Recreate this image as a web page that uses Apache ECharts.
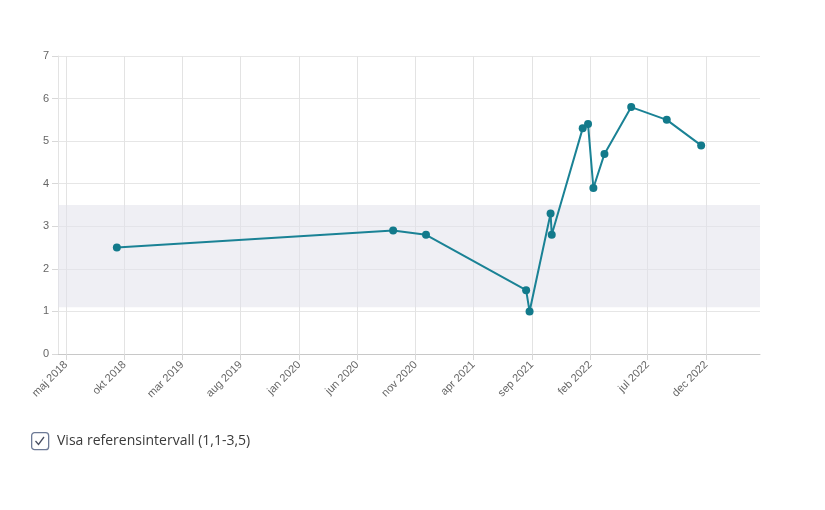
<!DOCTYPE html>
<html>
<head>
<meta charset="utf-8">
<script src="https://cdn.jsdelivr.net/npm/echarts@6/dist/echarts.min.js"></script>
<style>
html,body{margin:0;padding:0;background:#fff;}
#chart{width:825px;height:510px;}
</style>
</head>
<body>
<div id="chart"></div>
<script>
var dates = ['2018-09-11','2020-09-03','2020-11-28','2021-08-17','2021-08-26','2021-10-20','2021-10-23','2022-01-12','2022-01-26','2022-02-09','2022-03-10','2022-05-19','2022-08-20','2022-11-18'];
var values = [2.5, 2.9, 2.8, 1.5, 1.0, 3.3, 2.8, 5.3, 5.4, 3.9, 4.7, 5.8, 5.5, 4.9];
var tickDates = ['2018-05-01','2018-10-01','2019-03-01','2019-08-01','2020-01-01','2020-06-01','2020-11-01','2021-04-01','2021-09-01','2022-02-01','2022-07-01','2022-12-01'];
var monthNames = ['jan','feb','mar','apr','maj','jun','jul','aug','sep','okt','nov','dec'];
var refLow = 1.1, refHigh = 3.5;
var xMin = '2018-04-10', xMax = '2023-04-21';
var legendText = 'Visa referensintervall (1,1-3,5)';

function ts(s){ var p = s.split('-'); return Date.UTC(+p[0], +p[1]-1, +p[2]); }
var tickTs = tickDates.map(ts);
var seriesData = dates.map(function(d,i){ return [ts(d), values[i]]; });

var chart = echarts.init(document.getElementById('chart'), null, {renderer:'canvas'});
chart.setOption({
  animation:false,
  backgroundColor:'#fff',
  grid:{left:58, right:65, top:56, bottom:156, containLabel:false},
  xAxis:{
    type:'value',
    min: ts(xMin), max: ts(xMax),
    axisLine:{show:true, lineStyle:{color:'#c8c8c8'}},
    axisTick:{show:true, length:6, lineStyle:{color:'#d8d8d8'}, customValues: tickTs},
    splitLine:{show:true, lineStyle:{color:'#e3e3e3'}},
    axisLabel:{
      customValues: tickTs,
      rotate:45, margin:9, color:'#666', fontSize:11, fontFamily:'Liberation Sans, Arial, sans-serif',
      formatter:function(v){ var d = new Date(v); return monthNames[d.getUTCMonth()] + ' ' + d.getUTCFullYear(); }
    }
  },
  yAxis:{
    type:'value', min:0, max:7, interval:1,
    axisLine:{show:true, lineStyle:{color:'#e3e3e3'}},
    axisTick:{show:true, length:6, lineStyle:{color:'#d8d8d8'}},
    splitLine:{show:true, lineStyle:{color:'#e6e6e6'}},
    axisLabel:{color:'#666', fontSize:11, margin:9, fontFamily:'Liberation Sans, Arial, sans-serif'}
  },
  series:[{
    type:'line',
    data: seriesData,
    symbol:'circle', symbolSize:8,
    lineStyle:{color:'#1a8295', width:2},
    itemStyle:{color:'#127a8b'},
    markArea:{
      silent:true,
      itemStyle:{color:'rgba(225,225,235,0.55)'},
      data:[[{yAxis:refLow},{yAxis:refHigh}]]
    },
    z:3
  }],
  graphic:[
    {type:'rect', left:31, top:432, shape:{width:17, height:17, r:3}, style:{fill:'#fff', stroke:'#6d7a96', lineWidth:1.3}},
    {type:'polyline', shape:{points:[[35.5,441],[38.5,444.5],[44,437]]}, style:{stroke:'#4a5063', lineWidth:1.3, fill:null}},
    {type:'text', left:57, top:434, style:{text:legendText, fill:'#3a3a3a', fontSize:14, fontFamily:'Open Sans, sans-serif'}}
  ]
});
</script>
</body>
</html>
